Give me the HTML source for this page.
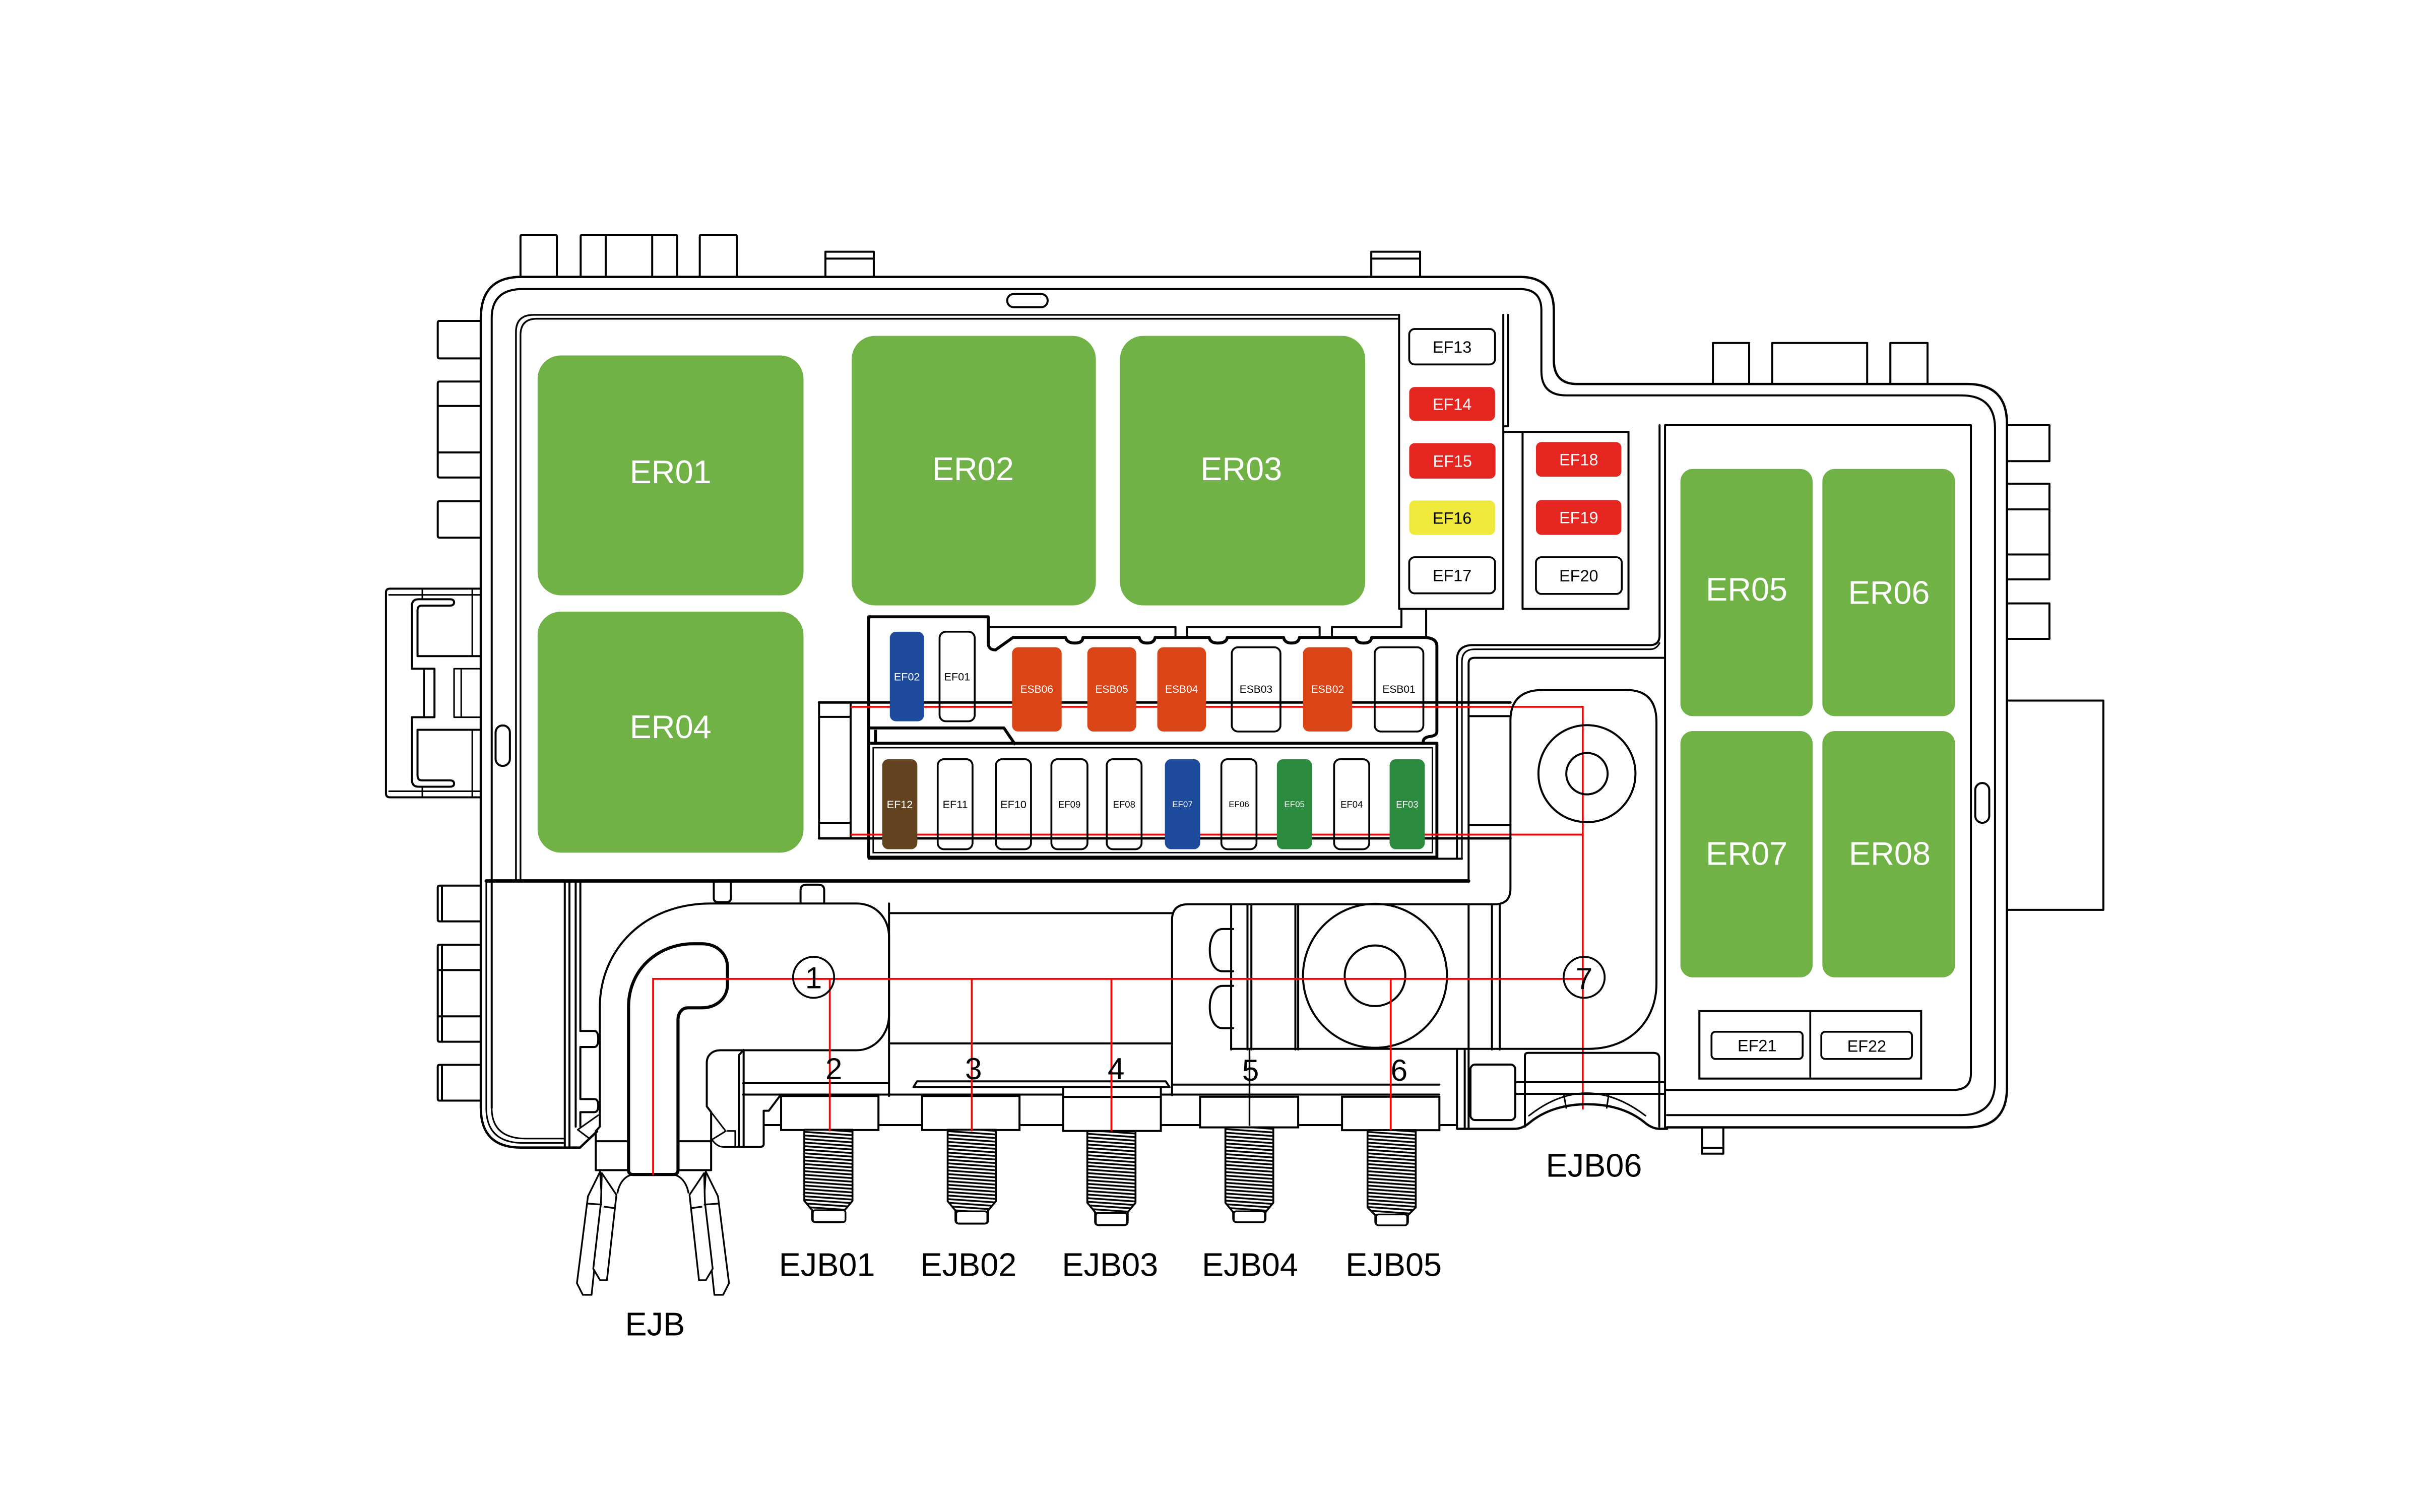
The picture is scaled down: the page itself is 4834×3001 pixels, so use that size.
<!DOCTYPE html>
<html><head><meta charset="utf-8">
<style>
html,body{margin:0;padding:0;background:#fff;}
svg{display:block;}
text{font-family:"Liberation Sans",Arial,sans-serif;}
</style></head><body>
<svg xmlns="http://www.w3.org/2000/svg" width="4834" height="3001" viewBox="0 0 1552 963.5">
<defs>
<pattern id="thr" patternUnits="userSpaceOnUse" width="10" height="2.3" patternTransform="skewY(4)">
<rect x="0" y="0" width="10" height="2.3" fill="#fff"/>
<line x1="0" y1="1.15" x2="10" y2="1.15" stroke="#000" stroke-width="1.15"/>
</pattern>
</defs>
<rect x="0" y="0" width="1552" height="963.5" fill="#fff"/>
<g transform="translate(-0.8,0.6) scale(0.99076)">

<g fill="none" stroke="#000" stroke-width="1.3" stroke-linejoin="round" stroke-linecap="round">
<!-- top tabs -->
<path d="M335.5,177.5V151.5Q335.5,150.4 337,150.4H357.4Q358.9,150.4 358.9,151.5V177.5"/>
<path d="M374.2,177.5V151.5Q374.2,150.4 375.5,150.4H435Q436.2,150.4 436.2,151.5V177.5M390.3,150.4V177.5M420.2,150.4V177.5"/>
<path d="M450.8,177.5V151.5Q450.8,150.4 452,150.4H473.4Q474.6,150.4 474.6,151.5V177.5"/>
<path d="M531.6,177.5V161.3H562.7V177.5M531.6,165.7H562.7"/>
<path d="M882.6,177.5V161.3H914V177.5M882.6,165.7H914"/>
<path d="M1102.3,246.4V220H1125.6V246.4M1140.4,246.4V220H1201.5V246.4M1216.4,246.4V220H1240.3V246.4"/>

<!-- left tabs -->
<path d="M309.6,205.8H283.5Q282.3,205.8 282.3,207V228.7Q282.3,229.9 283.5,229.9H309.6"/>
<path d="M309.6,244.8H283.5Q282.3,244.8 282.3,246V305.3Q282.3,306.5 283.5,306.5H309.6M282.3,260.5H309.6M282.3,290.4H309.6"/>
<path d="M309.6,321.8H283.5Q282.3,321.8 282.3,323V344Q282.3,345.2 283.5,345.2H309.6"/>
<path d="M309.6,569H283.5Q282.3,569 282.3,570.2V590.8Q282.3,592 283.5,592H309.6M285,569V592"/>
<path d="M309.6,607H283.5Q282.3,607 282.3,608.2V668.2Q282.3,669.4 283.5,669.4H309.6M282.3,623.3H309.6M282.3,653.1H309.6M285,607V669.4"/>
<path d="M309.6,684.3H283.5Q282.3,684.3 282.3,685.5V706.1Q282.3,707.3 283.5,707.3H309.6M285,684.3V707.3"/>

<!-- right tabs -->
<path d="M1291.4,272.9H1318.7V296H1291.4"/>
<path d="M1291.4,310.5H1318.7V372H1291.4M1291.4,327H1318.7M1291.4,356H1318.7"/>
<path d="M1291.4,387.5H1318.7V410.3H1291.4"/>
<path d="M1291.4,450H1353.4V584.6H1291.4"/>

<!-- left connector -->
<path d="M309.6,378H251.5Q249,378 249,380.5V509.7Q249,512.2 251.5,512.2H309.6"/>
<path d="M251,382H309.6M251,508.3H309.6M272.4,378V384.8M272.4,505.4V512.2M304.5,378V421.4M304.5,468.8V512.2" stroke-width="1"/>
<path d="M309.6,421.4H269.3V392Q269.3,388.9 272,388.9H290Q292.8,388.9 292.8,386.8Q292.8,384.8 290,384.8H270Q265.7,384.8 265.7,389V429.5H280.2V460.7H265.7V501Q265.7,505.4 270,505.4H290Q292.8,505.4 292.8,503.4Q292.8,501.3 290,501.3H272Q269.3,501.3 269.3,498V468.8H309.6"/>
<path d="M273.5,429.5V460.7M309.6,429.5H292.8V460.7H309.6M297.4,429.5V460.7" stroke-width="1"/>

<!-- housing outer & inner -->
<path stroke-width="1.5" d="M310,712V204Q310,177.5 336,177.5H978Q1000,177.5 1000,199V231Q1000,246.4 1015,246.4H1266Q1291.4,246.4 1291.4,272V699Q1291.4,724.5 1266,724.5H1072.8"/>
<path stroke-width="1.5" d="M310,712Q310,737.5 336,737.5H373.8L384.8,727"/>
<path d="M317,712V204Q317,185.3 337,185.3H978Q992,185.3 992,199V238Q992,253.7 1008,253.7H1262Q1283.7,253.7 1283.7,275V695Q1283.7,716.6 1262,716.6H1072.8"/>
<path d="M317,712Q317,731.7 339,731.7H364M313.5,566V712Q313.5,734.5 337,734.5H364" stroke-width="1"/>

<!-- slots -->
<rect x="648.5" y="188.5" width="26" height="8.5" rx="4.2"/>
<rect x="319.5" y="466" width="9.2" height="26" rx="4.5"/>
<rect x="1271" y="503" width="9" height="25.6" rx="4.5"/>

<!-- inner panel rim -->
<path d="M332.6,566V213Q332.6,201.9 344,201.9H900.5" stroke-width="1.1"/>
<path d="M335.5,566V215Q335.5,204.4 346,204.4H900.5" stroke-width="1.1"/>

<!-- fuse columns -->
<path d="M900.5,201.9V391H967.5V201.9M970.6,201.9V273.6H967.5M967.5,277.2H1048V391H979.9V277.2"/>
<!-- relay panel -->
<path d="M1071.5,272.9H1268.2V690Q1268.2,700.4 1257,700.4H1071.5M1071.5,272.9V724.5"/>
<path d="M1068,272.9V408Q1068,414.3 1062,414.3H948Q937.7,414.3 937.7,424V551.7"/>
<path d="M940.9,551.7V425Q940.9,417 949,417H1062Q1066,417 1068,413" stroke-width="1"/>
<path d="M945.2,566.6V426Q945.2,422.5 949,422.5H1071.5"/>
<path d="M945.2,460H972.1M945.2,530H972.1"/>

<!-- thick housing lines behind fuse blocks -->
<path d="M527.5,451.2H972.1M527.5,538.6H972.1" stroke-width="1.6"/>
<path d="M527.5,451.2V538.6M547.8,451.2V538.6M527.5,460.5H547.8M527.5,528.6H547.8"/>
<path d="M313.5,566H945.2" stroke-width="2.2"/>
<path d="M559.4,551.7H940.9"/>

<!-- relay area bottom line -->
<path d="M636.3,402.7H756.7V409.4M764.1,409.4V402.7H849.4V409.4M857.3,409.4V402.7H902V391M917.9,391V409.4"/>
</g>

<!-- relays -->
<g fill="#70b245">
<rect x="346.5" y="228" width="171" height="154.3" rx="15"/>
<rect x="548.5" y="215.4" width="157" height="173.4" rx="15"/>
<rect x="721" y="215.4" width="157.7" height="173.4" rx="15"/>
<rect x="346.5" y="392.8" width="171" height="155" rx="15"/>
<rect x="1081.4" y="301" width="85" height="159" rx="8"/>
<rect x="1172.7" y="301" width="85.3" height="159" rx="8"/>
<rect x="1081.4" y="469.6" width="85" height="158.4" rx="8"/>
<rect x="1172.7" y="469.6" width="85.3" height="158.4" rx="8"/>
</g>
<g fill="#fff" font-size="21" text-anchor="middle">
<text x="432" y="310.2">ER01</text>
<text x="626.5" y="308.2">ER02</text>
<text x="799" y="308.2">ER03</text>
<text x="432" y="474.2">ER04</text>
<text x="1124" y="385.7">ER05</text>
<text x="1215.5" y="387.8">ER06</text>
<text x="1124" y="555.6">ER07</text>
<text x="1216" y="555.6">ER08</text>
</g>

<!-- fuse blocks outlines -->
<g fill="none" stroke="#000" stroke-width="1.9" stroke-linejoin="round">
<path d="M559.4,478.4V396.1H636.3V413Q636.3,417.4 641,417.4L652.2,409.4H686Q687,413 692,413Q697,413 697.2,409.4H733.4Q734,413 738.5,413Q743,413 743.6,409.4H778.4Q779,413 784,413Q789.5,413 790,409.4H826.2Q827,413 831.3,413Q836,413 836.4,409.4H872.6Q873,413 877.7,413Q882.5,413 882.8,409.4H916Q924.8,409.4 924.8,415V470Q924.8,472.7 919.5,473.2Q916,474 916,476.5V478.4"/>
<path d="M559.4,467.6H646.4L653.7,478.4M563.8,468.8V478.4"/>
<rect x="559.4" y="477.4" width="365.4" height="73.3"/>
</g>
<rect x="562.3" y="480.3" width="359.6" height="67.5" fill="none" stroke="#000" stroke-width="0.9"/>

<!-- red loop (fuse area) -->
<path d="M547.8,454H1018.6V713M547.8,536.2H1018.6" fill="none" stroke="#f00" stroke-width="1.2"/>

<!-- upper fuses -->
<g stroke="#000" stroke-width="1.2">
<rect x="573" y="405.7" width="22" height="57.6" rx="4" fill="#1f4b9d" stroke="none"/>
<rect x="605" y="405.7" width="22.6" height="57.6" rx="4" fill="none"/>
<rect x="651.6" y="415.7" width="31.9" height="54.2" rx="4" fill="#da4517" stroke="none"/>
<rect x="700" y="415.7" width="31.4" height="54.2" rx="4" fill="#da4517" stroke="none"/>
<rect x="745" y="415.7" width="31.3" height="54.2" rx="4" fill="#da4517" stroke="none"/>
<rect x="792.9" y="415.7" width="31.3" height="54.2" rx="4" fill="none"/>
<rect x="838.7" y="415.7" width="31.6" height="54.2" rx="4" fill="#da4517" stroke="none"/>
<rect x="884.8" y="415.7" width="31.3" height="54.2" rx="4" fill="none"/>
<!-- lower fuses -->
<rect x="568.1" y="487.7" width="22.6" height="57.9" rx="4" fill="#63421f" stroke="none"/>
<rect x="603.8" y="487.7" width="22.4" height="57.9" rx="4" fill="none"/>
<rect x="641.2" y="487.7" width="22.6" height="57.9" rx="4" fill="none"/>
<rect x="676.9" y="487.7" width="23.2" height="57.9" rx="4" fill="none"/>
<rect x="712.5" y="487.7" width="22.4" height="57.9" rx="4" fill="none"/>
<rect x="749.9" y="487.7" width="22.7" height="57.9" rx="4" fill="#1f4b9d" stroke="none"/>
<rect x="786.2" y="487.7" width="22.6" height="57.9" rx="4" fill="none"/>
<rect x="821.9" y="487.7" width="22.6" height="57.9" rx="4" fill="#2b8a3e" stroke="none"/>
<rect x="858.7" y="487.7" width="22.6" height="57.9" rx="4" fill="none"/>
<rect x="894.4" y="487.7" width="22.6" height="57.9" rx="4" fill="#2b8a3e" stroke="none"/>
<!-- column fuses -->
<rect x="907" y="211" width="55.2" height="22.8" rx="3.5" fill="#fff"/>
<rect x="907" y="248.3" width="55.2" height="21.7" rx="3.5" fill="#e52620" stroke="none"/>
<rect x="907" y="284.4" width="55.5" height="22.8" rx="3.5" fill="#e52620" stroke="none"/>
<rect x="907" y="321.3" width="55.2" height="22.1" rx="3.5" fill="#eee93b" stroke="none"/>
<rect x="907" y="357.8" width="55.2" height="23.2" rx="3.5" fill="#fff"/>
<rect x="988.5" y="283.7" width="54.9" height="22.3" rx="3.5" fill="#e52620" stroke="none"/>
<rect x="988.5" y="321" width="54.9" height="22.4" rx="3.5" fill="#e52620" stroke="none"/>
<rect x="988.5" y="357.8" width="55.2" height="23.6" rx="3.5" fill="#fff"/>
<!-- EF21 / EF22 -->
<rect x="1093.6" y="649.7" width="142.6" height="43.4" fill="none" stroke-width="1.3"/>
<path d="M1164.9,649.7V693.1" fill="none"/>
<rect x="1101.4" y="663" width="58.6" height="17.5" rx="2.5" fill="none"/>
<rect x="1172" y="663" width="58.3" height="17.5" rx="2.5" fill="none"/>
</g>

<g font-size="10.5" text-anchor="middle" fill="#000">
<text x="934.6" y="226.2">EF13</text>
<text x="934.6" y="263" fill="#fff">EF14</text>
<text x="934.8" y="299.6" fill="#fff">EF15</text>
<text x="934.6" y="336.2">EF16</text>
<text x="934.6" y="373.2">EF17</text>
<text x="1016" y="298.7" fill="#fff">EF18</text>
<text x="1016" y="336" fill="#fff">EF19</text>
<text x="1016" y="373.4">EF20</text>
<text x="1130.7" y="675.6">EF21</text>
<text x="1201.2" y="675.8">EF22</text>
</g>
<g text-anchor="middle" fill="#000">
<text x="584" y="437" font-size="7" fill="#fff">EF02</text>
<text x="616.3" y="437" font-size="7">EF01</text>
<text x="667.5" y="445" font-size="6.8" fill="#fff">ESB06</text>
<text x="715.7" y="445" font-size="6.8" fill="#fff">ESB05</text>
<text x="760.6" y="445" font-size="6.8" fill="#fff">ESB04</text>
<text x="808.5" y="445" font-size="6.8">ESB03</text>
<text x="854.5" y="445" font-size="6.8" fill="#fff">ESB02</text>
<text x="900.4" y="445" font-size="6.8">ESB01</text>
<text x="579.4" y="519.1" font-size="7" fill="#fff">EF12</text>
<text x="615.1" y="519.1" font-size="7">EF11</text>
<text x="652.5" y="519.1" font-size="7">EF10</text>
<text x="688.5" y="518.8" font-size="6">EF09</text>
<text x="723.7" y="518.8" font-size="6">EF08</text>
<text x="761.2" y="518.6" font-size="5.5" fill="#fff">EF07</text>
<text x="797.5" y="518.6" font-size="5.5">EF06</text>
<text x="833.2" y="518.6" font-size="5.5" fill="#fff">EF05</text>
<text x="870" y="518.8" font-size="6">EF04</text>
<text x="905.7" y="518.8" font-size="6" fill="#fff">EF03</text>
</g>

<!-- lower structure -->
<g fill="none" stroke="#000" stroke-width="1.3" stroke-linejoin="round" stroke-linecap="round">
<!-- left block -->
<path d="M364,566.4V737.5M367,566.4V737.5M371,566.4V724"/>
<path d="M374,566.4V662.5H383Q385.5,662.5 385.5,667.6Q385.5,672.8 383,672.8H374V706.3H383Q385.5,706.3 385.5,710.5Q385.5,714.7 383,714.7H374V724"/>
<path d="M385.6,716.6L372.3,726L380,731.8" stroke-width="1"/>
<!-- posts -->
<path d="M459.8,566.5V577Q459.8,579.6 462.5,579.6H468Q470.8,579.6 470.8,577V566.5"/>
<path d="M515.6,580.5V572Q515.6,568.4 519.5,568.4H527Q530.8,568.4 530.8,572V580.5"/>
<!-- J outer / block 1 -->
<path d="M386.5,724V647.6C386.5,610 415,580.5 458,580.5H551.7C564,580.5 572.5,590 572.5,602V652C572.5,665 563,674.9 551.7,674.9H464.2C459,674.9 455.3,678 455.3,683V711L458.1,714.7V752"/>
<path d="M386.5,724L383.9,727V752H405M383.9,733.4H405M458.1,733.4H436.8M458.1,752H436.8"/>
<path d="M458.1,714.7L467.5,726.9L458.6,732.4M468.6,726.8H473.6V737.1M458.6,732.4Q462,737.1 466,737.1H476.4" stroke-width="1"/>
<!-- strip -->
<path d="M572.5,580.5V704.3M572.5,586.7H754.5M572.5,670.5H754.5"/>
<path d="M476,737.1V678L479,674.7V737.1M478.7,696.1H572.5M478.7,703.4H926.4M754.5,697H926.4"/>
<path d="M502.9,703.5L495.2,713.8H491.9V735.2Q491.9,737.1 489,737.1H476.4"/>
<path d="M492.3,723H937.7"/>
<path d="M588.2,698.6L590.5,694.9H750.5L752.9,698.6Z" fill="#fff"/>
<!-- 5/6 block & 7 body -->
<path d="M754.5,703.8V591Q754.5,581 765,581H962Q972.1,581 972.1,571V463Q972.1,443.2 992.8,443.2H1046.6Q1066,443.2 1066,463.8V632C1066,655 1050,674 1022,674H792.5"/>
<path d="M792.5,581V674.4M803,581V674.4M805.5,581V674.4M833.8,581V674.4M835.6,581V674.4M945.2,581V674.4M960.2,581V674.4M965.2,581V674.4"/>
<path d="M793.8,596.9H787C776,596.9 776,624.1 787,624.1H793.8M793.8,633.5H787C776,633.5 776,660.7 787,660.7H793.8"/>
<circle cx="885" cy="627" r="46.3"/>
<circle cx="885" cy="627" r="19.5"/>
<circle cx="1021.3" cy="497" r="31.2"/>
<circle cx="1021.3" cy="497" r="13.3"/>
<!-- EJB06 area -->
<path d="M937.7,674.8V725.4M942.7,674.8V725.4M945.2,674.8V725.4"/>
<rect x="946.4" y="684.1" width="28.8" height="35.7" rx="3"/>
<path d="M981.4,724V678.5Q981.4,676.6 983.5,676.6H1064Q1067.8,676.6 1067.8,680V724"/>
<path d="M975.2,695.4H1071.5M975.2,702.9H1071.5"/>
<path d="M938,725.4H975Q980,725.4 985,721C995,713 1008,709.6 1021.5,709.6C1035,709.6 1048,713 1058,721Q1063,725.4 1068,725.4H1072.8" stroke-width="1.5"/>
<path d="M984,717Q1021,688 1059,717M1006.5,704L1008,712M1035.2,704L1034,712" stroke-width="1"/>
<path d="M1095.3,724.5V741.4H1109V724.5M1095.3,737.6H1109"/>
</g>

<!-- inner busbar -->
<path d="M405,752V647C405,622 425,606.4 446.5,606.4H452C462,606.4 468.6,613 468.6,621.5V632.7C468.6,641 462,647.6 452,647.6H443C439.5,647.6 436.8,651 436.8,655V752Q436.8,754.8 434,754.8H408Q405,754.8 405,752Z" fill="#fff" stroke="#000" stroke-width="2"/>

<!-- forks -->
<g fill="#fff" stroke="#000" stroke-width="1.1" stroke-linejoin="round">
<g id="fork">
<path d="M386.7,753L378.9,768.8L371.8,824.7L375.6,832.2H381.2L387.8,770.7Z"/>
<path d="M387.8,753.9L397.2,767.9L391.1,822.8H386.7L382.3,815.4L387.3,772.5Z"/>
<path d="M378.5,773.5L388,774.2M389,775.5L396.5,776.5" fill="none"/>
<path d="M397.8,767C399,760 403,755 408.8,754.8" fill="none"/>
</g>
<use href="#fork" transform="translate(841.4,0) scale(-1,1)"/>
</g>

<!-- nut blocks -->
<g fill="#fff" stroke="#000" stroke-width="1.3">
<rect x="503.1" y="704.3" width="62.6" height="21.9"/>
<rect x="593.8" y="704.3" width="62.6" height="21.9"/>
<rect x="684.5" y="698.6" width="62.8" height="28.2"/>
<path d="M684.5,704.9H747.3" fill="none"/>
<rect x="772.5" y="704.8" width="63.1" height="19.7"/>
<rect x="863.8" y="704.8" width="62.6" height="21.5"/>
</g>

<!-- studs -->
<g stroke="#000" stroke-width="1.2" stroke-linejoin="round">
<path d="M518,726H549V771.7L544,777.7V783Q544,785.5 541.5,785.5H525.5Q523,785.5 523,783V777.7L518,771.7Z" fill="url(#thr)"/>
<path d="M610.2,726H641.2V772L636.2,778V784Q636.2,786.4 633.7,786.4H617.7Q615.2,786.4 615.2,784V778L610.2,772Z" fill="url(#thr)"/>
<path d="M700,727H731V773L726,779V785Q726,787.4 723.5,787.4H707.5Q705,787.4 705,785V779L700,773Z" fill="url(#thr)"/>
<path d="M788.8,724.5H819.6V773L814.6,779V783Q814.6,785.4 812.1,785.4H796.3Q793.8,785.4 793.8,783V779L788.8,773Z" fill="url(#thr)"/>
<path d="M880.2,726.3H911.2V776L906.2,781V785Q906.2,787.4 903.7,787.4H887.7Q885.2,787.4 885.2,785V781L880.2,776Z" fill="url(#thr)"/>
</g>
<g stroke="#000" stroke-width="1.1" fill="#fff">
<rect x="523.5" y="777.8" width="21" height="7.6" rx="1.5"/>
<rect x="615.7" y="778.5" width="20" height="7.8" rx="1.5"/>
<rect x="705.5" y="779.5" width="20" height="7.8" rx="1.5"/>
<rect x="794.2" y="778.5" width="20" height="7" rx="1.5"/>
<rect x="885.7" y="780.5" width="20" height="7" rx="1.5"/>
</g>

<!-- black line for 5 -->
<path d="M804.3,674.4V723.5" stroke="#000" stroke-width="1.1"/>

<!-- red bus lines -->
<g fill="none" stroke="#f00" stroke-width="1.2">
<path d="M420.8,755.2V629H1020"/>
<path d="M534.4,629V727M625.7,629V727M715.5,629V727M895.1,628.5V726.3"/>
</g>

<!-- circles -->
<g fill="none" stroke="#000" stroke-width="1.2">
<circle cx="524" cy="628" r="13.2"/>
<circle cx="1019.5" cy="628" r="13.2"/>
</g>
<g font-size="19.5" text-anchor="middle" fill="#000">
<text x="524" y="635">1</text>
<text x="1019.5" y="635.5">7</text>
<text x="537" y="693.6">2</text>
<text x="626.8" y="693.6">3</text>
<text x="718.5" y="693.6">4</text>
<text x="805" y="694.5">5</text>
<text x="900.5" y="694.5">6</text>
</g>
<g font-size="21" text-anchor="middle" fill="#000">
<text x="422" y="858.3">EJB</text>
<text x="532.6" y="820">EJB01</text>
<text x="623.6" y="820">EJB02</text>
<text x="714.6" y="820">EJB03</text>
<text x="804.6" y="820">EJB04</text>
<text x="897" y="820">EJB05</text>
<text x="1025.8" y="756.3">EJB06</text>
</g>
</g>
</svg>
</body></html>
